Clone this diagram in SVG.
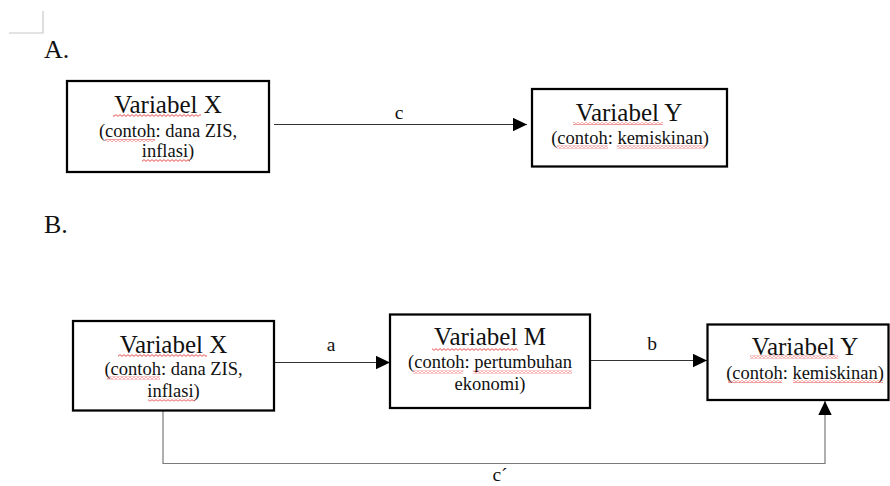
<svg xmlns="http://www.w3.org/2000/svg" width="890" height="486" viewBox="0 0 890 486">
<style>
text{font-family:"Liberation Serif","Times New Roman",serif;fill:#111;text-anchor:middle}
.t{font-size:25px}
.s{font-size:18.5px}
.l{font-size:19.5px}
.h{font-size:26px;text-anchor:start}
.box{fill:#fff;stroke:#000;stroke-width:2.25}
.ln{fill:none;stroke:#333;stroke-width:1}
.lg{fill:none;stroke:#7a7a7a;stroke-width:1.2}
.sq{fill:url(#wave)}
</style>
<defs>
<pattern id="wave" width="4" height="3" patternUnits="userSpaceOnUse">
<path d="M0,0.6 L2,2.4 L4,0.6" fill="none" stroke="#e02020" stroke-width="0.8"/>
</pattern>
<marker id="ah" markerUnits="userSpaceOnUse" markerWidth="15" markerHeight="14" refX="14" refY="7" orient="auto">
<path d="M0,0.3 L14,7 L0,13.7 Z" fill="#000"/>
</marker>
</defs>
<g id="corner">
<path d="M43,11 V33 H9" fill="none" stroke="#c8c8c8" stroke-width="1.2"/>
</g>
<text class="h" x="44" y="58">A.</text>
<text class="h" x="44" y="233">B.</text>
<g id="connectors">
<line class="ln" x1="274" y1="124.5" x2="527" y2="124.5" marker-end="url(#ah)"/>
<line class="ln" x1="275" y1="362.5" x2="390" y2="362.5" marker-end="url(#ah)"/>
<line class="ln" x1="590" y1="360.5" x2="707" y2="360.5" marker-end="url(#ah)"/>
<path class="lg" d="M163,411 V463.5 H825 V401" marker-end="url(#ah)"/>
<text class="l" x="399" y="119">c</text>
<text class="l" x="331" y="351">a</text>
<text class="l" x="652" y="350">b</text>
<text class="l" x="500" y="481">c´</text>
</g>
<g id="a-x">
<rect class="box" x="67" y="81" width="202" height="91"/>
<text class="t" x="168" y="113">Variabel X</text>
<text class="s" x="168" y="137">(contoh: dana ZIS,</text>
<text class="s" x="168" y="157">inflasi)</text>
<rect class="sq" x="113" y="114" width="88" height="3"/>
<rect class="sq" x="105" y="139" width="50" height="3"/>
<rect class="sq" x="142" y="159" width="48" height="3"/>
</g>
<g id="a-y">
<rect class="box" x="532" y="89" width="195" height="77.5"/>
<text class="t" x="629" y="121">Variabel Y</text>
<text class="s" x="630" y="143.5">(contoh: kemiskinan)</text>
<rect class="sq" x="573" y="122" width="90" height="3"/>
<rect class="sq" x="557" y="145.5" width="51" height="3"/>
<rect class="sq" x="617" y="145.5" width="88" height="3"/>
</g>
<g id="b-x">
<rect class="box" x="73" y="321" width="201" height="89.5"/>
<text class="t" x="173.5" y="353">Variabel X</text>
<text class="s" x="173.5" y="375">(contoh: dana ZIS,</text>
<text class="s" x="173.5" y="397">inflasi)</text>
<rect class="sq" x="118" y="354" width="89" height="3"/>
<rect class="sq" x="107" y="376.5" width="53" height="3"/>
<rect class="sq" x="148" y="398.5" width="47" height="3"/>
</g>
<g id="b-m">
<rect class="box" x="390" y="314.5" width="200" height="93.5"/>
<text class="t" x="490" y="345">Variabel M</text>
<text class="s" x="490" y="368">(contoh: pertumbuhan</text>
<text class="s" x="490" y="390">ekonomi)</text>
<rect class="sq" x="432" y="348" width="86" height="3"/>
<rect class="sq" x="413" y="370.5" width="50" height="3"/>
<rect class="sq" x="473" y="370.5" width="99" height="3"/>
</g>
<g id="b-y">
<rect class="box" x="707.5" y="324.5" width="181" height="75.5"/>
<text class="t" x="805" y="354.5">Variabel Y</text>
<text class="s" x="805" y="378.5">(contoh: kemiskinan)</text>
<rect class="sq" x="750" y="355.5" width="88" height="3"/>
<rect class="sq" x="728" y="380" width="54" height="3"/>
<rect class="sq" x="793" y="380" width="90" height="3"/>
</g>
</svg>
